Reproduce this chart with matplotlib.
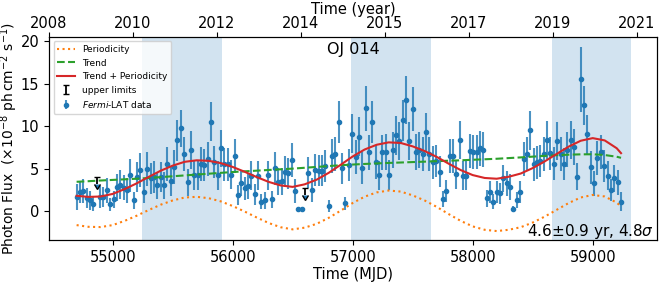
import numpy as np
import matplotlib.pyplot as plt

# Fermi-LAT light curve of OJ 014, 28-day bins starting at MJD 54697
t_start = 54697
bin_days = 28

# None marks the bins that only have an upper limit
flux = [
    1.65, 2.2, 2.35, 1.57, 1.25, 0.86, None, 1.65, 1.65, 2.43,
    0.78, 1.37, 2.82, 3.13, 2.75, 2.43, 4.2, 1.26, 4.0, 4.79,
    2.3, 4.94, 3.84, 4.0, 3.06, 4.0, 3.06, 5.6, 3.53, 5.2,
    8.35, 9.73, 6.67, 3.37, 7.18, 4.24, 4.24, 5.6, 5.4, 6.1,
    10.5, 5.8, 4.24, 7.37, 5.49, 5.49, 4.3, 6.51, 1.88, 3.33,
    2.67, 2.94, 4.16, 1.96, 4.16, 1.1, 1.25, 4.24, 1.41, 5.02,
    3.45, 3.53, 4.63, 4.43, 6.0, 2.35, 0.2, 0.2, None, 4.51,
    2.47, 4.82, 4.75, 4.75, 5.3, 0.63, 6.51, 6.71, 10.5, 5.02,
    0.9, 5.4, 9.1, 6.35, 8.75, 5.1, 12.08, 6.9, 10.5, 5.8,
    4.24, 6.9, 6.98, 4.24, 7.18, 8.94, 8.27, 10.7, 13.1, 8.27,
    12.0, 6.98, 7.18, 6.71, 9.33, 6.67, 5.73, 5.88, 4.63, 1.41,
    2.35, 6.47, 6.47, 4.31, 8.35, 4.16, 4.16, 7.1, 6.9, 6.9,
    7.37, 7.25, 1.49, 2.27, 1.1, 2.27, 2.08, 3.84, 3.25, 2.86,
    0.24, 1.29, 2.27, 6.12, 6.67, 9.53, 5.49, 5.73, 5.88, 6.71,
    8.35, 6.78, 5.6, 8.23, 6.67, 5.53, 7.25, 8.35, 7.57, 4.04,
    15.5, 12.47, 9.06, 5.14, 3.25, 6.27, 6.9, 5.3, 4.16, 2.47,
    3.84, 3.37, 1.1,
]
flux_err = [
    1.5, 1.3, 1.4, 1.2, 1.1, 0.9, None, 1.3, 1.2, 1.5,
    0.8, 1.0, 1.6, 1.7, 1.5, 1.5, 1.9, 1.0, 1.8, 2.0,
    1.4, 2.0, 1.8, 1.9, 1.6, 1.8, 1.6, 2.0, 1.7, 2.0,
    2.4, 2.2, 2.0, 1.6, 2.2, 1.8, 1.8, 2.0, 1.9, 2.0,
    2.3, 1.9, 1.7, 2.2, 1.9, 1.9, 1.7, 2.0, 1.2, 1.5,
    1.4, 1.5, 1.7, 1.2, 1.7, 0.9, 1.0, 1.7, 1.0, 1.9,
    1.6, 1.6, 1.8, 1.8, 2.0, 1.4, 0.3, 0.3, None, 1.8,
    1.4, 1.9, 1.8, 1.8, 1.9, 0.7, 2.0, 2.0, 2.5, 1.8,
    0.8, 1.9, 2.3, 2.0, 2.3, 1.9, 2.7, 2.1, 2.5, 2.0,
    1.7, 2.1, 2.1, 1.8, 2.1, 2.3, 2.2, 2.4, 2.8, 2.2,
    2.6, 2.1, 2.1, 2.0, 2.2, 2.0, 1.9, 1.9, 1.8, 0.9,
    1.3, 2.0, 2.0, 1.7, 2.2, 1.7, 1.7, 2.0, 2.0, 2.0,
    2.1, 2.1, 1.0, 1.3, 0.9, 1.3, 1.2, 1.6, 1.5, 1.5,
    0.4, 0.9, 1.3, 2.0, 2.0, 2.3, 1.9, 1.9, 1.9, 2.0,
    2.2, 2.0, 1.9, 2.2, 2.0, 1.9, 2.1, 2.2, 2.1, 1.6,
    3.8, 2.3, 2.3, 1.9, 1.5, 2.0, 2.0, 1.9, 1.7, 1.3,
    1.6, 1.5, 1.1,
]

# upper limits
ul_mjd = [54865, 56601]
ul_flux = [4.05, 2.67]
ul_len = [0.9, 0.8]

# fitted model curves
curve_mjd = [
    54697, 54797, 54897, 54997, 55097, 55197, 55297, 55397, 55497, 55597,
    55697, 55797, 55897, 55997, 56097, 56197, 56297, 56397, 56497, 56597,
    56697, 56797, 56897, 56997, 57097, 57197, 57297, 57397, 57497, 57597,
    57697, 57797, 57897, 57997, 58097, 58197, 58297, 58397, 58497, 58597,
    58697, 58797, 58897, 58997, 59097, 59197, 59233,
]
trend = [
    3.45, 3.52, 3.6, 3.67, 3.74, 3.81, 3.9, 4.0, 4.1, 4.2,
    4.3, 4.4, 4.5, 4.6, 4.68, 4.76, 4.84, 4.92, 5.0, 5.1,
    5.2, 5.3, 5.4, 5.48, 5.55, 5.61, 5.67, 5.72, 5.77, 5.82,
    5.88, 5.93, 5.98, 6.04, 6.1, 6.16, 6.24, 6.32, 6.41, 6.5,
    6.58, 6.64, 6.68, 6.69, 6.6, 6.4, 6.27,
]
periodicity = [
    -1.65, -1.85, -1.88, -1.65, -1.15, -0.55, 0.12, 0.75, 1.25, 1.6,
    1.68, 1.52, 1.15, 0.6, -0.05, -0.75, -1.4, -1.9, -2.15, -1.95,
    -1.5, -0.8, 0.05, 0.95, 1.7, 2.2, 2.42, 2.3, 1.85, 1.25,
    0.5, -0.35, -1.15, -1.8, -2.2, -2.35, -2.2, -1.9, -1.35, -0.65,
    0.15, 0.95, 1.6, 1.9, 1.72, 1.0, 0.55,
]
trend_periodicity = [
    1.80, 1.67, 1.72, 2.02, 2.59, 3.26, 4.02, 4.75, 5.35, 5.80,
    5.98, 5.92, 5.65, 5.20, 4.63, 4.01, 3.44, 3.02, 2.85, 3.15,
    3.70, 4.50, 5.45, 6.43, 7.25, 7.81, 8.09, 8.02, 7.62, 7.07,
    6.38, 5.58, 4.83, 4.24, 3.90, 3.81, 4.04, 4.42, 5.06, 5.85,
    6.73, 7.59, 8.28, 8.59, 8.32, 7.40, 6.82,
]

# high-state intervals (MJD)
span_start = [55242, 56983, 58658]
span_end = [55908, 57650, 59317]

# top axis: calendar years
year_tick_mjd = [54466, 55166, 55866, 56566, 57266, 57966, 58666, 59366]
year_labels = ["2008", "2010", "2012", "2014", "2015", "2017", "2019", "2021"]

flux = np.array(flux, dtype=float)
flux_err = np.array(flux_err, dtype=float)
mjd = t_start + bin_days * np.arange(len(flux))

fig = plt.figure(figsize=(6.64, 2.82), dpi=100)
ax = fig.add_axes([0.0738, 0.149, 0.9157, 0.72])

for a, b in zip(span_start, span_end):
    ax.axvspan(a, b, color="C0", alpha=0.2, lw=0, zorder=0)

l1, = ax.plot(curve_mjd, periodicity, ":", color="C1", lw=1.5,
              label="Periodicity", zorder=4)
l2, = ax.plot(curve_mjd, trend, "--", color="C2", lw=1.5,
              label="Trend", zorder=4)
l3, = ax.plot(curve_mjd, trend_periodicity, "-", color="C3", lw=1.5,
              label="Trend + Periodicity", zorder=4)

ul = ax.errorbar(ul_mjd, ul_flux, yerr=ul_len, uplims=True, fmt="none",
                 ecolor="k", elinewidth=1.3, capsize=2.5,
                 label="upper limits", zorder=3)
data = ax.errorbar(mjd, flux, yerr=flux_err, fmt="o", ms=3, color="C0",
                   ecolor=(0.12, 0.47, 0.71, 0.8), elinewidth=1.5,
                   label=r"$\it{Fermi}$-LAT data", zorder=2)

ax.set_xlim(54467, 59533)
ax.set_ylim(-3.4, 20.5)
ax.set_xticks([55000, 56000, 57000, 58000, 59000])
ax.set_yticks([0, 5, 10, 15, 20])
ax.tick_params(labelsize=10.5)
ax.set_xlabel("Time (MJD)", fontsize=10.5, labelpad=2)
ax.set_ylabel(r"Photon Flux  ($\times$10$^{-8}$ ph$\,$cm$^{-2}$ s$^{-1}$)",
              fontsize=10)
ax.yaxis.set_label_coords(-0.047, 0.5)

ax.text(0.5, 0.94, "OJ 014", transform=ax.transAxes, ha="center",
        va="center", fontsize=11.5)
ax.text(0.995, 0.04, r"4.6$\pm$0.9 yr, 4.8$\sigma$", transform=ax.transAxes,
        ha="right", va="center", fontsize=11)

ax.legend(handles=[l1, l2, l3, ul, data], loc="upper left", fontsize=6.5)

top = ax.twiny()
top.set_xlim(ax.get_xlim())
top.set_xticks(year_tick_mjd)
top.set_xticklabels(year_labels)
top.tick_params(labelsize=10.5, pad=1)
top.set_xlabel("Time (year)", fontsize=10.5, labelpad=1.5)

fig.savefig("out.png", dpi=100)
